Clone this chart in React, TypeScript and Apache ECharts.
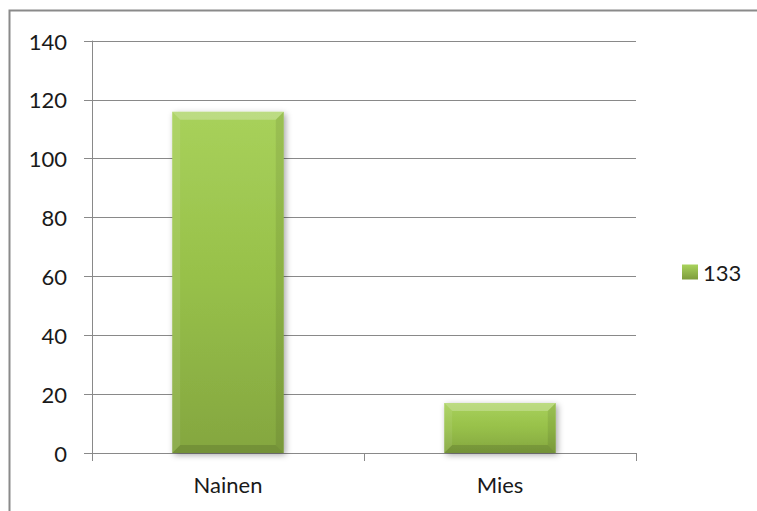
import React, { useEffect, useRef } from "react";
import * as echarts from "echarts";

const categories = ["Nainen", "Mies"];
const values = [116, 17];
const seriesName = "133";
const yTicks = { min: 0, max: 140, interval: 20 };

const FONT = "Lato, 'Open Sans', sans-serif";
const GRID = "#898989";

export default function App() {
  const ref = useRef<HTMLDivElement>(null);
  useEffect(() => {
    if (!ref.current) return;
    const chart = echarts.init(ref.current, null, { renderer: "svg" });
    const barGrad = new echarts.graphic.LinearGradient(0, 0, 0, 1, [
      { offset: 0, color: "#a8d15b" },
      { offset: 0.5, color: "#97c049" },
      { offset: 1, color: "#84a640" },
    ]);
    const legendGrad = new echarts.graphic.LinearGradient(0, 0, 0, 1, [
      { offset: 0, color: "#a9d35c" },
      { offset: 1, color: "#7d9c3b" },
    ]);
    chart.setOption({
      animation: false,
      textStyle: { fontFamily: FONT },
      graphic: [
        {
          type: "rect",
          shape: { x: 9.5, y: 10.5, width: 900, height: 700 },
          style: { fill: "none", stroke: "#8a8a8a", lineWidth: 2 },
          silent: true,
          z: -10,
        },
      ],
      grid: { left: 92, right: 121, top: 41, bottom: 58 },
      legend: {
        orient: "vertical",
        left: 677,
        top: 256,
        itemWidth: 16,
        itemHeight: 15,
        itemGap: 8,
        textStyle: { fontFamily: FONT, fontSize: 22, color: "#1a1a1a" },
        data: [{ name: seriesName, icon: "rect", itemStyle: { color: legendGrad } }],
      },
      xAxis: {
        type: "category",
        data: categories,
        axisLine: { show: true, lineStyle: { color: GRID, width: 1 } },
        axisTick: { show: true, length: 8, lineStyle: { color: GRID } },
        axisLabel: { fontFamily: FONT, fontSize: 22, color: "#1a1a1a", margin: 20 },
      },
      yAxis: {
        type: "value",
        min: yTicks.min,
        max: yTicks.max,
        interval: yTicks.interval,
        axisLine: { show: true, lineStyle: { color: GRID, width: 1 } },
        axisTick: { show: true, length: 8, lineStyle: { color: GRID } },
        splitLine: { show: true, lineStyle: { color: GRID, width: 1 } },
        axisLabel: { fontFamily: FONT, fontSize: 22, color: "#1a1a1a", margin: 25 },
      },
      series: [
        {
          type: "custom",
          name: seriesName,
          itemStyle: { color: "#98bf4a" },
          encode: { x: 0, y: 1 },
          data: values.map((v, i) => [i, v]),
          renderItem: (params: any, api: any) => {
            const idx = api.value(0);
            const val = api.value(1);
            const top = api.coord([idx, val]);
            const base = api.coord([idx, 0]);
            const bw = api.size([1, 0])[0] * 0.41;
            const x0 = top[0] - bw / 2;
            const x1 = top[0] + bw / 2;
            const y0 = top[1];
            const y1 = base[1];
            const b = Math.min(8, (y1 - y0) / 2);
            return {
              type: "group",
              children: [
                {
                  type: "rect",
                  shape: { x: x0, y: y0, width: bw, height: y1 - y0 },
                  style: {
                    fill: barGrad,
                    shadowBlur: 6,
                    shadowColor: "rgba(0,0,0,0.35)",
                    shadowOffsetX: 2,
                    shadowOffsetY: 2,
                  },
                },
                {
                  type: "polygon",
                  shape: { points: [[x0, y0], [x1, y0], [x1 - b, y0 + b], [x0 + b, y0 + b]] },
                  style: { fill: "rgba(255,255,255,0.24)" },
                },
                {
                  type: "polygon",
                  shape: { points: [[x0, y0], [x0 + b, y0 + b], [x0 + b, y1 - b], [x0, y1]] },
                  style: { fill: "rgba(255,255,255,0.08)" },
                },
                {
                  type: "polygon",
                  shape: { points: [[x1, y0], [x1, y1], [x1 - b, y1 - b], [x1 - b, y0 + b]] },
                  style: { fill: "rgba(0,0,0,0.08)" },
                },
                {
                  type: "polygon",
                  shape: { points: [[x0, y1], [x0 + b, y1 - b], [x1 - b, y1 - b], [x1, y1]] },
                  style: { fill: "rgba(0,0,0,0.12)" },
                },
              ],
            };
          },
        },
      ],
    });
    return () => chart.dispose();
  }, []);
  return (
    <div
      ref={ref}
      style={{ position: "fixed", left: 0, top: 0, width: 757, height: 511, background: "#fff" }}
    />
  );
}
